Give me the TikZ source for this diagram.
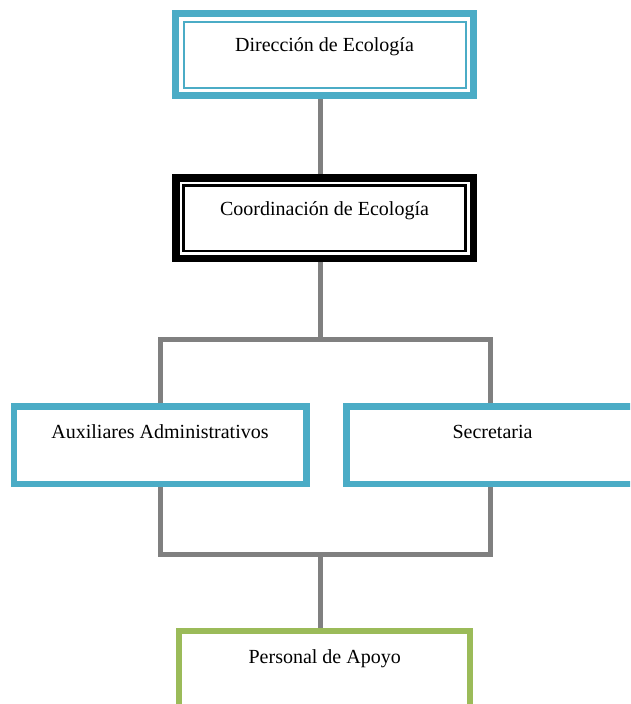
\documentclass[tikz,border=0pt]{standalone}
\usepackage{fontspec}
\setmainfont{Liberation Serif}
\usetikzlibrary{positioning}
\definecolor{tealbox}{HTML}{4BACC6}
\definecolor{greenbox}{HTML}{9BBB59}
\definecolor{greyline}{HTML}{808080}
\begin{document}
\begin{tikzpicture}[x=1pt,y=-1pt,
	box/.style={draw,rectangle,fill=white,inner ysep=0pt,text height=15pt,font=\fontsize{20}{24}\selectfont},
	unitbox/.style={box,draw=tealbox,line width=6.5pt,minimum width=292.5pt,minimum height=77.5pt,text depth=28.4pt},
	link/.style={draw=greyline,line width=5pt}]
	\useasboundingbox (0,0) rectangle (630,704);
	\clip (0,0) rectangle (630,704);
	% boxes
	\node[box,draw=tealbox,line width=7pt,minimum width=298pt,minimum height=82pt,text depth=22pt] (dir) at (324.5,54.5) {Dirección de Ecología};
	\draw[tealbox,line width=2pt] ([shift={(11.5,11.5)}]dir.north west) rectangle ([shift={(-11.5,-11.5)}]dir.south east);
	\node[box,draw=black,line width=7.5pt,minimum width=297.5pt,minimum height=80.5pt,text depth=21.6pt] (coord) at (324.5,218.3) {Coordinación de Ecología};
	\draw[black,line width=2.5pt] ([shift={(11.3,11.3)}]coord.north west) rectangle ([shift={(-11.3,-11.3)}]coord.south east);
	\node[unitbox] (aux) at (160,445) {Auxiliares Administrativos};
	\node[unitbox] (sec) at (492.5,445) {Secretaria};
	\node[box,draw=greenbox,line width=6pt,minimum width=291.3pt,minimum height=77.5pt,text depth=29pt] (apoyo) at (324.7,670) {Personal de Apoyo};
	% connectors
	\coordinate (spine) at (320,0);
	\coordinate (split) at (320,339);
	\coordinate (join) at (320,554);
	\draw[link] (dir.south -| spine) -- (coord.north -| spine);
	\draw[link] (coord.south -| spine) -- (split);
	\draw[link] (aux.north) |- (split) -| ([xshift=-2.5pt]sec.north);
	\draw[link] (aux.south) |- (join) -| ([xshift=-2.5pt]sec.south);
	\draw[link] (join) -- (apoyo.north -| spine);
\end{tikzpicture}
\end{document}
